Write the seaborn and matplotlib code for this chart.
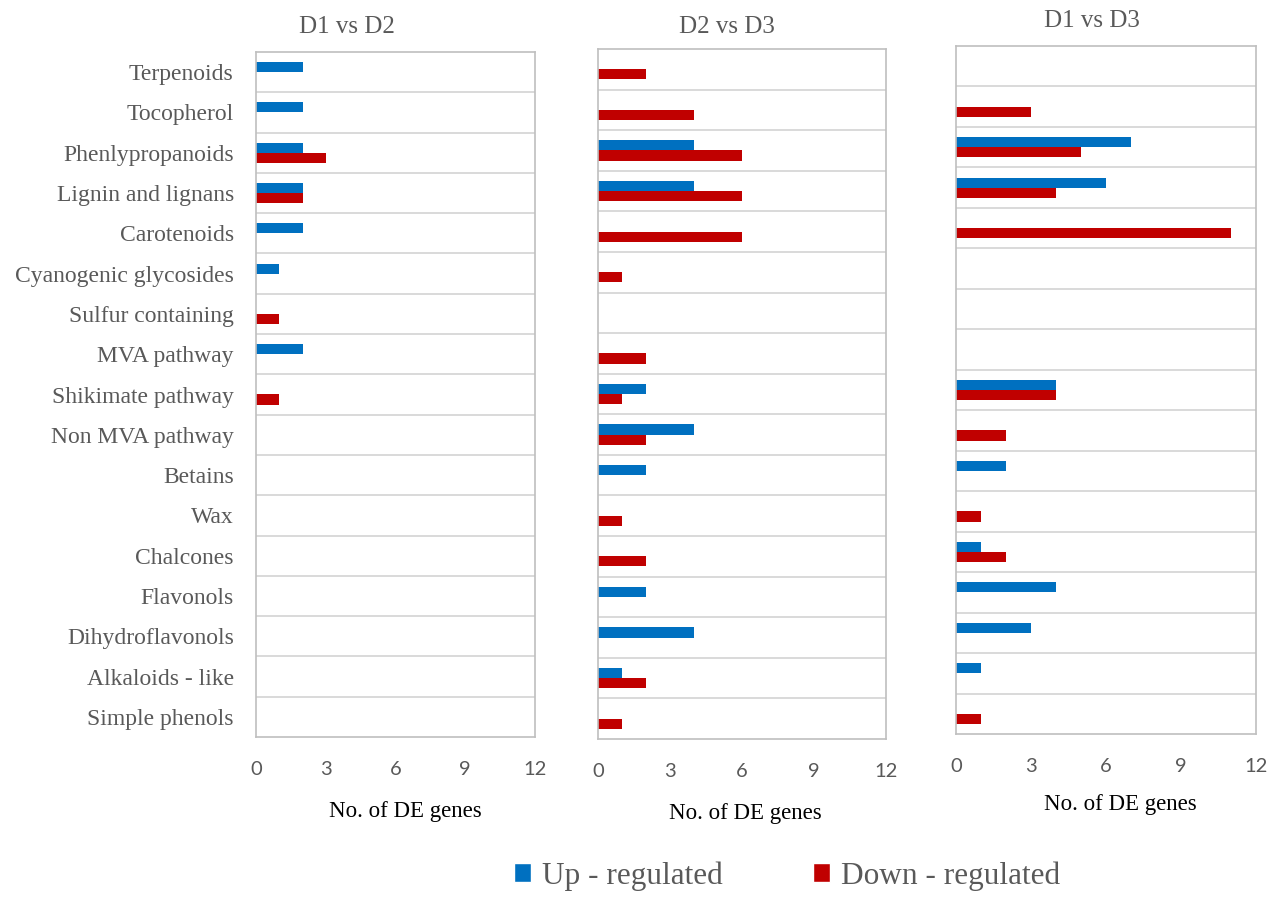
import matplotlib
matplotlib.use("Agg")
import matplotlib.pyplot as plt
from matplotlib.patches import Patch
import numpy as np
import pandas as pd
import seaborn as sns

# categories, top to bottom
categories = ["Terpenoids", "Tocopherol", "Phenlypropanoids", "Lignin and lignans",
              "Carotenoids", "Cyanogenic glycosides", "Sulfur containing", "MVA pathway",
              "Shikimate pathway", "Non MVA pathway", "Betains", "Wax", "Chalcones",
              "Flavonols", "Dihydroflavonols", "Alkaloids - like", "Simple phenols"]

# D1 vs D2
up_d1d2 = [2, 2, 2, 2, 2, 1, 0, 2, 0, 0, 0, 0, 0, 0, 0, 0, 0]
down_d1d2 = [0, 0, 3, 2, 0, 0, 1, 0, 1, 0, 0, 0, 0, 0, 0, 0, 0]
# D2 vs D3
up_d2d3 = [0, 0, 4, 4, 0, 0, 0, 0, 2, 4, 2, 0, 0, 2, 4, 1, 0]
down_d2d3 = [2, 4, 6, 6, 6, 1, 0, 2, 1, 2, 0, 1, 2, 0, 0, 2, 1]
# D1 vs D3
up_d1d3 = [0, 0, 7, 6, 0, 0, 0, 0, 4, 0, 2, 0, 1, 4, 3, 1, 0]
down_d1d3 = [0, 3, 5, 4, 11, 0, 0, 0, 4, 2, 0, 1, 2, 0, 0, 0, 1]

titles = ["D1 vs D2", "D2 vs D3", "D1 vs D3"]
hue_names = ["Up - regulated", "Down - regulated"]
xticks = [0, 3, 6, 9, 12]

blue = "#0070C0"
red = "#C00000"
grey_txt = "#595959"
grid_c = "#D9D9D9"
spine_c = "#BFBFBF"

sns.set_style("white")
plt.rcParams["font.family"] = ["Liberation Serif", "DejaVu Serif"]

W, H = 1272, 897
fig = plt.figure(figsize=(W / 100, H / 100), dpi=100)

# panel boxes in pixels: left, right, top, bottom
boxes = [(256, 535, 52, 737), (598, 886, 49, 739), (956, 1256, 46, 734)]
title_pos = [(347, 33), (727, 33), (1092, 27)]
xlabel_pos = [(405, 817), (745, 819), (1120, 810)]

panels = [(up_d1d2, down_d1d2), (up_d2d3, down_d2d3), (up_d1d3, down_d1d3)]

for i, ((up, down), (l, r, t, b)) in enumerate(zip(panels, boxes)):
    ax = fig.add_axes([l / W, 1 - b / H, (r - l) / W, (b - t) / H])
    df = pd.DataFrame({
        "category": categories * 2,
        "value": up + down,
        "reg": [hue_names[0]] * len(categories) + [hue_names[1]] * len(categories),
    })
    sns.barplot(data=df, y="category", x="value", hue="reg", hue_order=hue_names,
                palette=[blue, red], saturation=1, orient="h", width=0.5, linewidth=0,
                errorbar=None, legend=False, ax=ax)
    ax.set_xlim(0, 12)
    ax.set_ylim(len(categories) - 0.5, -0.5)
    ax.set_xticks(xticks)
    ax.set_xticklabels([str(v) for v in xticks], family=["Lato", "DejaVu Sans"],
                       fontsize=14.5, color=grey_txt)
    ax.tick_params(axis="x", direction="in", length=7, width=1, color=spine_c, pad=17)
    ax.set_yticks(np.arange(0.5, len(categories) - 0.5), minor=True)
    ax.grid(which="minor", axis="y", color=grid_c, linewidth=1.4)
    ax.tick_params(axis="y", which="both", length=0)
    if i == 0:
        ax.tick_params(axis="y", labelsize=17, labelcolor=grey_txt, pad=16)
    else:
        ax.set_yticklabels([])
    ax.set_xlabel("")
    ax.set_ylabel("")
    for sp in ax.spines.values():
        sp.set_visible(True)
        sp.set_color(spine_c)
        sp.set_linewidth(1.2)
    fig.text(title_pos[i][0] / W, 1 - title_pos[i][1] / H, titles[i],
             ha="center", va="baseline", fontsize=18, color=grey_txt)
    fig.text(xlabel_pos[i][0] / W, 1 - xlabel_pos[i][1] / H, "No. of DE genes",
             ha="center", va="baseline", fontsize=16.5, color="black")

handles = [Patch(facecolor=blue, label=hue_names[0]), Patch(facecolor=red, label=hue_names[1])]
fig.legend(handles=handles, loc="center", bbox_to_anchor=(787 / W, 1 - 876 / H),
           ncol=2, frameon=False, fontsize=22.5, labelcolor=grey_txt,
           handlelength=0.55, handleheight=0.55, handletextpad=0.35, columnspacing=2.9)

fig.savefig("out.png", dpi=100)
